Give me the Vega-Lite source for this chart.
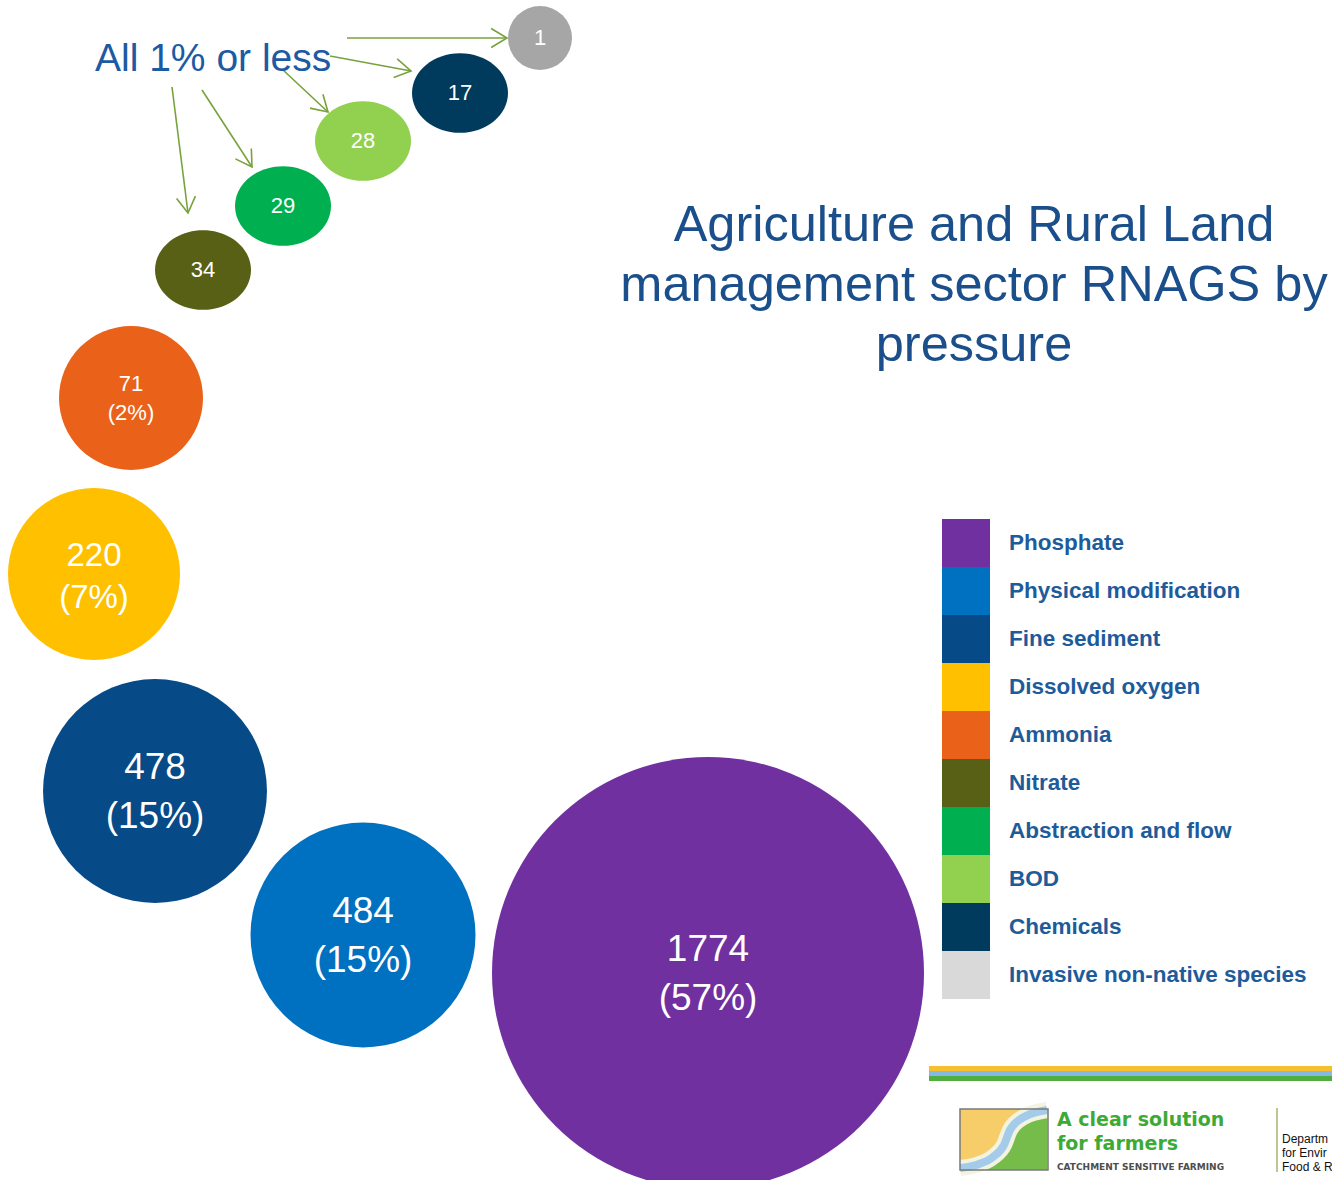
{
  "$schema": "https://vega.github.io/schema/vega-lite/v6.json",
  "width": 1332,
  "height": 1180,
  "padding": 0,
  "autosize": {"type": "none"},
  "background": "white",
  "config": {"view": {"stroke": null}, "text": {"font": "Liberation Sans"}},
  "data": {"values": [{}]},
  "datasets": {
    "bubbles": [
      {"pressure": "Phosphate", "count": 1774, "label": "1774\n(57%)", "x": 708, "y": 973},
      {"pressure": "Physical modification", "count": 484, "label": "484\n(15%)", "x": 363, "y": 935},
      {"pressure": "Fine sediment", "count": 478, "label": "478\n(15%)", "x": 155, "y": 791},
      {"pressure": "Dissolved oxygen", "count": 220, "label": "220\n(7%)", "x": 94, "y": 574},
      {"pressure": "Ammonia", "count": 71, "label": "71\n(2%)", "x": 131, "y": 398},
      {"pressure": "Nitrate", "count": 34, "label": "34", "x": 203, "y": 270},
      {"pressure": "Abstraction and flow", "count": 29, "label": "29", "x": 283, "y": 206},
      {"pressure": "BOD", "count": 28, "label": "28", "x": 363, "y": 141},
      {"pressure": "Chemicals", "count": 17, "label": "17", "x": 460, "y": 93},
      {"pressure": "Invasive non-native species", "count": 1, "label": "1", "x": 540, "y": 38}
    ],
    "arrows": [
      {"x": 347, "y": 38, "x2": 507, "y2": 38},
      {"x": 330, "y": 56, "x2": 411, "y2": 71},
      {"x": 283, "y": 70, "x2": 328, "y2": 112},
      {"x": 202, "y": 90, "x2": 252, "y2": 167},
      {"x": 172, "y": 87, "x2": 188, "y2": 213}
    ],
    "river": [
      {"x": 1047, "y": 1110},
      {"x": 1024, "y": 1117},
      {"x": 1010, "y": 1130},
      {"x": 1004, "y": 1145},
      {"x": 993, "y": 1157},
      {"x": 976, "y": 1165},
      {"x": 960, "y": 1168}
    ]
  },
  "encoding": {
    "x": {"type": "quantitative", "scale": {"domain": [0, 1332], "nice": false, "zero": false}, "axis": null},
    "y": {"type": "quantitative", "scale": {"domain": [0, 1180], "nice": false, "zero": false, "reverse": true}, "axis": null}
  },
  "layer": [
    {
      "data": {"name": "arrows"},
      "mark": {"type": "rule", "color": "#78A23C", "strokeWidth": 1.6},
      "encoding": {
        "x": {"field": "x", "type": "quantitative"},
        "y": {"field": "y", "type": "quantitative"},
        "x2": {"field": "x2"},
        "y2": {"field": "y2"}
      }
    },
    {
      "data": {"name": "arrows"},
      "transform": [{"calculate": "atan2(datum.y2 - datum.y, datum.x2 - datum.x) * 180 / PI", "as": "ang"}],
      "mark": {"type": "point", "shape": "M-1,-0.6L0,0L-1,0.6", "filled": false, "stroke": "#78A23C", "strokeWidth": 1.6, "size": 1000, "opacity": 1},
      "encoding": {
        "x": {"field": "x2", "type": "quantitative"},
        "y": {"field": "y2", "type": "quantitative"},
        "angle": {"field": "ang", "type": "quantitative", "scale": null}
      }
    },
    {
      "data": {"name": "bubbles"},
      "transform": [{"filter": "datum.count >= 50"}],
      "mark": {"type": "point", "shape": "circle", "filled": true, "opacity": 1, "strokeWidth": 0},
      "encoding": {
        "x": {"field": "x", "type": "quantitative"},
        "y": {"field": "y", "type": "quantitative"},
        "size": {"field": "count", "type": "quantitative", "legend": null,
          "scale": {"type": "linear", "zero": false, "nice": false, "domain": [1, 17, 34, 71, 220, 484, 1774], "range": [4096, 9216, 9216, 20736, 29584, 50625, 186624]}},
        "color": {"field": "pressure", "type": "nominal",
          "scale": {"domain": ["Phosphate", "Physical modification", "Fine sediment", "Dissolved oxygen", "Ammonia", "Nitrate", "Abstraction and flow", "BOD", "Chemicals", "Invasive non-native species"],
                    "range": ["#7030A0", "#0070C0", "#064A88", "#FFC000", "#EA621A", "#586016", "#00B050", "#92D050", "#003A5C", "#D9D9D9"]},
          "legend": {"title": null, "orient": "none", "legendX": 942, "legendY": 519, "direction": "vertical",
            "symbolType": "square", "symbolSize": 2304, "symbolStrokeWidth": 0, "symbolOpacity": 1,
            "rowPadding": 0, "padding": 0, "labelOffset": 19, "labelFont": "Liberation Sans", "labelFontWeight": "bold",
            "labelFontSize": 22.5, "labelColor": "#1E5B9A", "labelLimit": 0}}
      }
    },
    {
      "data": {"name": "bubbles"},
      "transform": [{"filter": "datum.count < 50 && datum.count > 1"}],
      "mark": {"type": "point", "shape": "M-1,0A1,0.83,0,1,1,1,0A1,0.83,0,1,1,-1,0Z", "filled": true, "opacity": 1, "strokeWidth": 0},
      "encoding": {
        "x": {"field": "x", "type": "quantitative"},
        "y": {"field": "y", "type": "quantitative"},
        "size": {"field": "count", "type": "quantitative", "legend": null},
        "color": {"field": "pressure", "type": "nominal"}
      }
    },
    {
      "data": {"name": "bubbles"},
      "transform": [{"filter": "datum.count == 1"}],
      "mark": {"type": "point", "shape": "circle", "filled": true, "opacity": 1, "strokeWidth": 0, "color": "#A6A6A6"},
      "encoding": {
        "x": {"field": "x", "type": "quantitative"},
        "y": {"field": "y", "type": "quantitative"},
        "size": {"field": "count", "type": "quantitative", "legend": null}
      }
    },
    {
      "data": {"name": "bubbles"},
      "transform": [{"filter": "datum.count >= 478"}],
      "mark": {"type": "text", "color": "white", "fontSize": 37, "lineHeight": 49, "lineBreak": "\n", "align": "center", "baseline": "middle", "dy": -23},
      "encoding": {
        "x": {"field": "x", "type": "quantitative"},
        "y": {"field": "y", "type": "quantitative"},
        "text": {"field": "label"}
      }
    },
    {
      "data": {"name": "bubbles"},
      "transform": [{"filter": "datum.count == 220"}],
      "mark": {"type": "text", "color": "white", "fontSize": 33, "lineHeight": 42, "lineBreak": "\n", "align": "center", "baseline": "middle", "dy": -18},
      "encoding": {
        "x": {"field": "x", "type": "quantitative"},
        "y": {"field": "y", "type": "quantitative"},
        "text": {"field": "label"}
      }
    },
    {
      "data": {"name": "bubbles"},
      "transform": [{"filter": "datum.count == 71"}],
      "mark": {"type": "text", "color": "white", "fontSize": 22, "lineHeight": 29, "lineBreak": "\n", "align": "center", "baseline": "middle", "dy": -14.5},
      "encoding": {
        "x": {"field": "x", "type": "quantitative"},
        "y": {"field": "y", "type": "quantitative"},
        "text": {"field": "label"}
      }
    },
    {
      "data": {"name": "bubbles"},
      "transform": [{"filter": "datum.count < 50"}],
      "mark": {"type": "text", "color": "white", "font": "Liberation Sans", "fontSize": 22, "align": "center", "baseline": "middle"},
      "encoding": {
        "x": {"field": "x", "type": "quantitative"},
        "y": {"field": "y", "type": "quantitative"},
        "text": {"field": "label"}
      }
    },
    {
      "mark": {"type": "text", "color": "#1C5AA3", "fontSize": 39, "align": "left", "baseline": "alphabetic"},
      "encoding": {"x": {"datum": 95}, "y": {"datum": 71}, "text": {"value": "All 1% or less"}}
    },
    {
      "mark": {"type": "text", "color": "#1B4F8C", "fontSize": 50.5, "lineHeight": 60, "lineBreak": "\n", "align": "center", "baseline": "alphabetic"},
      "encoding": {"x": {"datum": 974}, "y": {"datum": 241}, "text": {"value": "Agriculture and Rural Land\nmanagement sector RNAGS by\npressure"}}
    },
    {
      "mark": {"type": "rule", "color": "#F7BE2E", "strokeWidth": 5},
      "encoding": {"x": {"datum": 929}, "x2": {"datum": 1332}, "y": {"datum": 1068.5}}
    },
    {
      "mark": {"type": "rule", "color": "#84B9E3", "strokeWidth": 5},
      "encoding": {"x": {"datum": 929}, "x2": {"datum": 1332}, "y": {"datum": 1073.5}}
    },
    {
      "mark": {"type": "rule", "color": "#4FAE3F", "strokeWidth": 5},
      "encoding": {"x": {"datum": 929}, "x2": {"datum": 1332}, "y": {"datum": 1078.5}}
    },
    {
      "mark": {"type": "rect", "color": "#F7CD6A"},
      "encoding": {"x": {"datum": 960}, "x2": {"datum": 1048}, "y": {"datum": 1109}, "y2": {"datum": 1170}}
    },
    {
      "data": {"name": "river"},
      "mark": {"type": "area", "color": "#76BC4A", "interpolate": "monotone", "opacity": 1},
      "encoding": {
        "x": {"field": "x", "type": "quantitative"},
        "y": {"field": "y", "type": "quantitative"},
        "y2": {"datum": 1170}
      }
    },
    {
      "data": {"name": "river"},
      "mark": {"type": "line", "color": "#F3F4DF", "strokeWidth": 16, "interpolate": "monotone"},
      "encoding": {
        "x": {"field": "x", "type": "quantitative"},
        "y": {"field": "y", "type": "quantitative"}
      }
    },
    {
      "data": {"name": "river"},
      "mark": {"type": "line", "color": "#A5CBEB", "strokeWidth": 8, "interpolate": "monotone"},
      "encoding": {
        "x": {"field": "x", "type": "quantitative"},
        "y": {"field": "y", "type": "quantitative"}
      }
    },
    {
      "mark": {"type": "rect", "filled": false, "stroke": "#7A7A7A", "strokeWidth": 1.5},
      "encoding": {"x": {"datum": 960}, "x2": {"datum": 1048}, "y": {"datum": 1109}, "y2": {"datum": 1170}}
    },
    {
      "mark": {"type": "text", "color": "#3DAA35", "font": "DejaVu Sans", "fontWeight": "bold", "fontSize": 19, "lineHeight": 24, "lineBreak": "\n", "align": "left", "baseline": "alphabetic"},
      "encoding": {"x": {"datum": 1057}, "y": {"datum": 1126}, "text": {"value": "A clear solution\nfor farmers"}}
    },
    {
      "mark": {"type": "text", "color": "#4D4D4D", "font": "DejaVu Sans", "fontWeight": "bold", "fontSize": 9, "align": "left", "baseline": "alphabetic"},
      "encoding": {"x": {"datum": 1057}, "y": {"datum": 1170}, "text": {"value": "CATCHMENT SENSITIVE FARMING"}}
    },
    {
      "mark": {"type": "rule", "color": "#A9B56A", "strokeWidth": 1.5},
      "encoding": {"x": {"datum": 1277}, "y": {"datum": 1108}, "y2": {"datum": 1172}}
    },
    {
      "mark": {"type": "text", "color": "#111111", "fontSize": 12, "lineHeight": 14, "lineBreak": "\n", "align": "left", "baseline": "alphabetic"},
      "encoding": {"x": {"datum": 1282}, "y": {"datum": 1143}, "text": {"value": "Departm\nfor Envir\nFood & R"}}
    }
  ]
}
